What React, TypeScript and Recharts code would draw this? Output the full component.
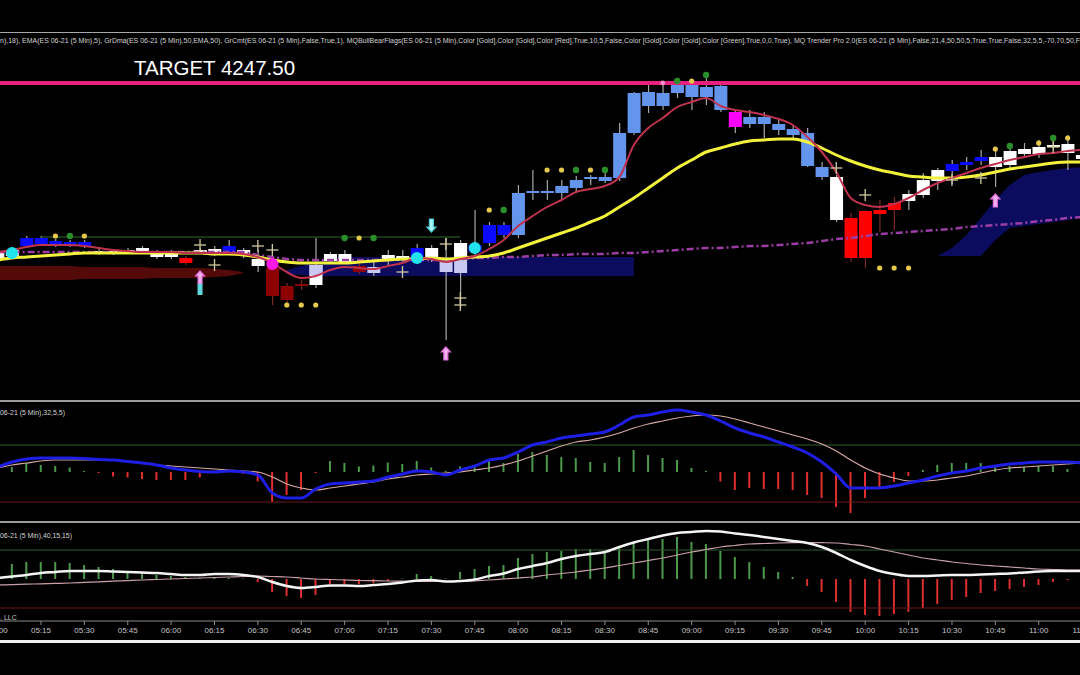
import React from 'react';
import { ComposedChart, Bar, Line, Area, Scatter, XAxis, YAxis, ReferenceLine, Cell } from 'recharts';

// bar geometry (5 min bars)
const BAR_PX = 14.46;
const BAR0_X = -2.4;
const CHART_LEFT = -20;
const CHART_W = 1120;
const X_DOMAIN = [(CHART_LEFT - BAR0_X) / BAR_PX, (CHART_LEFT + CHART_W - BAR0_X) / BAR_PX];

const FONT = 'Arial, "Liberation Sans", sans-serif';

const tickIndex = [0, 3, 6, 9, 12, 15, 18, 21, 24, 27, 30, 33, 36, 39, 42, 45, 48, 51, 54, 57, 60, 63, 66, 69, 72, 75];
const tickLabels = ['05:00', '05:15', '05:30', '05:45', '06:00', '06:15', '06:30', '06:45', '07:00', '07:15', '07:30', '07:45', '08:00',
  '08:15', '08:30', '08:45', '09:00', '09:15', '09:30', '09:45', '10:00', '10:15', '10:30', '10:45', '11:00', '11:15'];

// ES 06-21, 5 min
const opens = [
  4230.0, 4230.2, 4231.2, 4231.4, 4231.3, 4231.3, 4231.2, 4230.5, 4230.5, 4230.6,
  4230.6, 4230.1, 4230.1, 4230.0, 4230.6, 4230.5, 4230.6, 4230.4, 4229.2, 4229.0,
  4227.2, 4227.4, 4227.3, 4229.7, 4229.6, 4229.2, 4228.5, 4229.8, 4230.0, 4229.6,
  4230.0, 4229.6, 4228.5, 4230.6, 4231.5, 4232.3, 4232.3, 4236.5, 4236.5, 4236.5,
  4237.0, 4237.9, 4237.7, 4238.0, 4242.5, 4246.6, 4245.2, 4246.5, 4247.3, 4246.1,
  4247.2, 4244.6, 4244.1, 4243.4, 4243.4, 4242.9, 4242.5, 4239.1, 4238.1, 4234.0,
  4234.7, 4234.4, 4234.8, 4235.7, 4236.3, 4237.7, 4238.7, 4239.3, 4239.7, 4239.1,
  4239.3, 4240.4, 4240.4, 4241.1, 4240.5, 4239.9,
];
const highs = [
  4230.9, 4231.0, 4232.2, 4232.2, 4231.9, 4231.8, 4231.8, 4230.9, 4230.9, 4231.0,
  4231.2, 4230.8, 4230.8, 4230.2, 4231.0, 4231.2, 4231.8, 4231.0, 4230.8, 4229.6,
  4227.5, 4227.8, 4232.0, 4230.6, 4230.8, 4229.5, 4229.8, 4230.8, 4230.8, 4231.4,
  4231.3, 4232.0, 4231.8, 4234.8, 4233.6, 4233.6, 4237.3, 4238.8, 4237.8, 4237.8,
  4238.2, 4238.3, 4238.6, 4243.5, 4246.6, 4247.3, 4247.3, 4247.8, 4247.6, 4248.5,
  4247.5, 4244.8, 4244.8, 4244.6, 4244.0, 4243.3, 4243.0, 4239.6, 4238.3, 4234.5,
  4234.8, 4235.8, 4236.1, 4236.8, 4238.5, 4239.0, 4239.8, 4240.1, 4240.8, 4240.8,
  4241.3, 4241.5, 4241.8, 4241.8, 4242.3, 4240.8,
];
const lows = [
  4229.8, 4230.0, 4231.0, 4231.2, 4231.1, 4231.1, 4231.0, 4230.3, 4230.3, 4230.4,
  4230.4, 4229.9, 4229.9, 4229.3, 4230.4, 4230.2, 4230.4, 4230.0, 4228.6, 4225.3,
  4225.5, 4226.8, 4227.0, 4229.5, 4229.4, 4228.4, 4228.2, 4229.3, 4229.6, 4229.4,
  4229.6, 4221.8, 4225.0, 4230.2, 4231.2, 4232.0, 4232.0, 4235.8, 4235.8, 4235.8,
  4236.6, 4237.3, 4237.5, 4237.7, 4242.3, 4244.5, 4244.8, 4246.0, 4244.8, 4245.3,
  4244.6, 4242.5, 4243.0, 4242.0, 4242.3, 4241.8, 4239.1, 4237.8, 4233.6, 4229.6,
  4229.0, 4232.6, 4232.8, 4234.8, 4236.0, 4236.8, 4237.4, 4238.8, 4239.3, 4237.1,
  4239.0, 4240.0, 4240.0, 4240.8, 4238.8, 4239.6,
];
const closes = [
  4230.7, 4230.8, 4232.0, 4232.0, 4231.7, 4231.6, 4231.6, 4230.7, 4230.7, 4230.8,
  4231.0, 4230.5, 4230.5, 4229.5, 4230.8, 4230.9, 4231.2, 4230.8, 4229.9, 4226.2,
  4225.8, 4227.2, 4229.3, 4230.4, 4230.4, 4228.6, 4229.1, 4230.3, 4230.2, 4231.0,
  4231.0, 4228.6, 4231.5, 4231.3, 4233.3, 4233.3, 4236.5, 4236.7, 4236.7, 4237.2,
  4237.8, 4238.1, 4238.1, 4242.5, 4246.5, 4245.2, 4246.5, 4247.3, 4246.1, 4247.1,
  4244.8, 4243.1, 4243.4, 4244.1, 4242.8, 4242.3, 4239.2, 4238.1, 4233.8, 4230.0,
  4230.0, 4234.8, 4235.5, 4236.4, 4237.8, 4238.8, 4239.4, 4239.6, 4240.1, 4240.1,
  4240.7, 4240.9, 4241.1, 4241.3, 4241.4, 4240.3,
];
// paint bar colours: W white, L lavender, B blue, C cornflower, D dark red, R red, M magenta
const candleTone = 'WWBBBBBWWWWWWRWWBWWDDDWWWDLWWBWLLBBBCCCCCCCCCCCCCCCMCCCCCCWRRRRWWWBBBWWWWWWW';
const twoTone = [
  { i: 22, tone: 'L', to: 4228.3 },
  { i: 32, tone: 'W', to: 4230.0 },
];

const ema5 = [
  4230.6, 4230.8, 4231.1, 4231.3, 4231.3, 4231.3, 4231.2, 4231.0, 4230.8, 4230.7,
  4230.6, 4230.6, 4230.6, 4230.5, 4230.5, 4230.5, 4230.5, 4230.4, 4230.1, 4229.5,
  4228.6, 4228.0, 4228.2, 4228.8, 4229.1, 4229.0, 4228.9, 4229.2, 4229.5, 4230.0,
  4229.9, 4229.6, 4229.9, 4230.2, 4230.9, 4231.8, 4233.2, 4234.2, 4235.1, 4235.8,
  4236.6, 4236.9, 4237.2, 4238.1, 4241.3, 4243.0, 4244.0, 4245.1, 4245.6, 4246.0,
  4245.2, 4244.8, 4244.6, 4244.3, 4243.9, 4243.3, 4242.1, 4240.6, 4238.6, 4236.0,
  4235.3, 4235.1, 4235.4, 4236.0, 4236.8, 4237.5, 4238.0, 4238.5, 4239.0, 4239.4,
  4239.8, 4240.1, 4240.4, 4240.5, 4240.7, 4240.8,
];
const ema50 = [
  4229.8, 4230.0, 4230.1, 4230.2, 4230.3, 4230.4, 4230.5, 4230.5, 4230.5, 4230.5,
  4230.5, 4230.5, 4230.5, 4230.5, 4230.5, 4230.4, 4230.4, 4230.3, 4230.1, 4229.8,
  4229.6, 4229.5, 4229.5, 4229.5, 4229.5, 4229.6, 4229.7, 4229.8, 4229.9, 4229.9,
  4230.0, 4229.9, 4230.0, 4230.1, 4230.2, 4230.5, 4231.0, 4231.5, 4232.0, 4232.5,
  4233.0, 4233.6, 4234.2, 4235.1, 4236.0, 4237.0, 4238.0, 4239.0, 4239.8, 4240.6,
  4241.0, 4241.4, 4241.7, 4241.8, 4241.9, 4241.9, 4241.6, 4241.0, 4240.3, 4239.7,
  4239.2, 4238.8, 4238.5, 4238.2, 4238.1, 4238.0, 4238.0, 4238.1, 4238.3, 4238.6,
  4238.9, 4239.1, 4239.3, 4239.5, 4239.6, 4239.6,
];
const trender = [
  4230.6, 4230.6, 4230.6, 4230.6, 4230.6, 4230.6, 4230.6, 4230.6, 4230.6, 4230.6,
  4230.6, 4230.6, 4230.6, 4230.6, 4230.6, 4230.6, 4230.6, 4230.6, 4230.3, 4230.1,
  4229.9, 4229.8, 4229.8, 4229.8, 4229.8, 4229.8, 4229.8, 4229.8, 4229.8, 4229.8,
  4229.8, 4229.8, 4229.9, 4230.0, 4230.0, 4230.1, 4230.1, 4230.2, 4230.3, 4230.3,
  4230.4, 4230.4, 4230.4, 4230.5, 4230.5, 4230.6, 4230.7, 4230.8, 4230.9, 4231.0,
  4231.0, 4231.1, 4231.2, 4231.2, 4231.3, 4231.4, 4231.5, 4231.7, 4231.9, 4232.0,
  4232.2, 4232.4, 4232.5, 4232.6, 4232.7, 4232.8, 4232.9, 4233.1, 4233.2, 4233.3,
  4233.4, 4233.5, 4233.7, 4233.8, 4234.0, 4234.1,
];

// ribbons
const redBandStart = 0;
const redBandTop = [4229.2, 4229.2, 4229.2, 4229.2, 4229.2, 4229.2, 4229.1, 4229.1, 4229.1, 4229.1, 4229.1, 4229.0, 4229.0, 4229.0, 4229.0, 4228.9, 4228.8, 4228.6];
const redBandBottom = [4227.8, 4227.8, 4227.8, 4227.8, 4227.8, 4227.8, 4227.9, 4227.9, 4227.9, 4227.9, 4227.9, 4228.0, 4228.0, 4228.0, 4228.0, 4228.1, 4228.2, 4228.5];
const navyStart = 20;
const navyTop = [4228.8, 4229.2, 4229.6, 4230.1, 4230.1, 4230.1, 4230.1, 4230.1, 4230.1, 4230.1, 4230.1, 4230.1, 4230.1, 4230.1, 4230.1, 4230.1, 4230.1, 4230.1, 4230.1, 4230.1, 4230.1, 4230.1, 4230.1, 4230.1, 4230.1];
const navyBottom = [4228.4, 4228.3, 4228.2, 4228.2, 4228.2, 4228.2, 4228.2, 4228.2, 4228.2, 4228.2, 4228.2, 4228.2, 4228.2, 4228.2, 4228.2, 4228.2, 4228.2, 4228.2, 4228.2, 4228.2, 4228.2, 4228.2, 4228.2, 4228.2, 4228.2];
const cloudStart = 65;
const cloudTop = [4230.2, 4231.0, 4232.3, 4234.0, 4235.8, 4237.3, 4238.3, 4238.6, 4238.8, 4239.0, 4239.1];
const cloudBottom = [4230.2, 4230.2, 4230.2, 4230.2, 4231.8, 4233.0, 4233.2, 4233.4, 4233.6, 4233.8, 4234.0];
const flagFrom = 3;
const flagTo = 32;
const flagLevel = 4232.1;
const target = 4247.5;

const goldDots = [
  { i: 4, p: 4232.2 }, { i: 6, p: 4232.2 }, { i: 20, p: 4225.3 }, { i: 21, p: 4225.3 }, { i: 22, p: 4225.3 },
  { i: 25, p: 4232.0 }, { i: 34, p: 4234.8 }, { i: 38, p: 4238.8 }, { i: 39, p: 4238.8 }, { i: 41, p: 4238.8 },
  { i: 48, p: 4247.7 }, { i: 61, p: 4229.0 }, { i: 62, p: 4229.0 }, { i: 63, p: 4229.0 },
  { i: 69, p: 4240.9 }, { i: 72, p: 4241.5 }, { i: 74, p: 4242.0 },
];
const greenDots = [
  { i: 5, p: 4232.2 }, { i: 24, p: 4232.0 }, { i: 26, p: 4232.0 }, { i: 35, p: 4234.8 }, { i: 40, p: 4238.8 },
  { i: 42, p: 4238.8 }, { i: 47, p: 4247.7 }, { i: 49, p: 4248.3 }, { i: 70, p: 4241.2 }, { i: 73, p: 4242.0 },
];
const pinkDots = [{ i: 46, p: 4247.5 }];
const cyanDots = [{ i: 1, p: 4230.5 }, { i: 29, p: 4230.0 }, { i: 33, p: 4231.0 }];
const magentaDots = [{ i: 19, p: 4229.4 }];
const crosses = [
  { i: 14, p: 4231.3 }, { i: 15, p: 4229.3 }, { i: 18, p: 4231.2 }, { i: 19, p: 4230.8 }, { i: 28, p: 4228.6 },
  { i: 31, p: 4231.4 }, { i: 32, p: 4226.0 }, { i: 32, p: 4225.3 }, { i: 58, p: 4239.0 }, { i: 60, p: 4236.3 },
  { i: 66, p: 4237.8 }, { i: 68, p: 4238.0 }, { i: 73, p: 4241.1 },
];
const arrows = [
  { i: 14, p: 4228.0, dir: 'up', tail: true },
  { i: 30, p: 4233.3, dir: 'down', tail: false },
  { i: 31, p: 4220.4, dir: 'up', tail: false },
  { i: 69, p: 4235.7, dir: 'up', tail: false },
];

// oscillator pane (32,5,5)
const oscFast = [
  5, 10, 13, 14, 14, 14, 13.5, 12.5, 12, 10.5,
  9, 7, 4, 2, 0.5, 0, 1, 0, -3, -21,
  -26, -26, -17, -12, -11, -10, -9, -5, -2, 1,
  0, -3, 2, 6, 12, 14, 20, 27, 30, 34,
  36, 38, 40, 47, 55, 57, 60, 62, 60, 57,
  51, 44, 39, 35, 30, 25, 19, 10, -2, -16,
  -16, -16, -14, -11, -8, -4, -1, 1, 4, 6,
  8, 9, 10, 10, 10, 9,
];
const oscSlow = [
  4, 7, 9, 11, 12, 12, 12, 12, 12, 11,
  9, 7, 6, 5, 4, 3, 2, 1, 0, -5,
  -12, -16, -18, -16, -14, -12, -10, -7, -5, -3,
  -2, -1, 0, 2, 4, 7, 11, 16, 21, 26,
  30, 32, 35, 39, 44, 48, 51, 54, 56, 57,
  56, 53, 49, 45, 41, 37, 33, 28, 21, 12,
  4, -2, -6, -9, -9, -8, -6, -4, -1, 2,
  4, 5, 6, 7, 8, 9,
];
const oscHist = [
  3, 5, 9, 7, 6, 4.5, 1, -1, -4.5, -5.5,
  -7, -8, -8, -8, -5.5, -1, 2, -2, -9.5, -30,
  -23, -18, -1, 11, 9, 5.5, 6.5, 9.5, 8, 11,
  4.5, 1, 5.5, 7, 11, 9, 18, 20, 17, 15,
  14, 10, 9, 15, 22, 17, 14, 12, 4, 1,
  -9.5, -18, -16, -17, -17, -18, -23, -26, -35, -41,
  -26, -15, -10, -4, 2, 7, 9, 9, 9, 7,
  6, 5, 6, 6, 3, 2,
];

// momentum pane (40,15,15)
const momLine = [
  1, 2.5, 4, 6, 7, 8, 8, 8, 7.5, 7,
  6.5, 6, 5, 4, 4, 5, 5, 4, 2, -3,
  -7, -9, -8, -6.5, -6.5, -7, -6, -5, -3.5, -1.5,
  -1, -2.5, -2, -0.5, 3, 5.5, 10, 13, 16, 20,
  23, 25, 27, 32, 36.5, 40, 43.5, 46, 47, 48,
  47.5, 45.5, 44, 42, 40, 38, 36, 32, 26, 19,
  13, 8, 5, 3, 3, 3.5, 4, 4, 4.5, 5,
  5.5, 6.5, 7.5, 8, 8, 8,
];
const momSignal = [
  -6, -5.6, -5.2, -4.8, -4.4, -4, -3.4, -2.8, -2.2, -1.6,
  -1, -0.5, 0, 0.5, 1, 1.5, 2, 2.5, 3, 2.5,
  2, 1, 0, -0.5, -1, -1.5, -1.7, -2, -2.2, -2.4,
  -2.5, -2.5, -2.5, -1.8, -1, 0, 1, 2, 4, 5.5,
  7, 9, 11, 13.5, 16, 18.5, 21, 24, 27, 29.5,
  32, 33.5, 35, 35.5, 36, 36.3, 36.5, 36.3, 36, 34.5,
  33, 30, 27, 24, 21, 19, 17, 15.5, 14, 13,
  12, 11, 10, 9.5, 9, 9,
];
const momHist = [
  14, 15, 17, 17, 17, 16, 14, 12, 10, 8,
  6, 4, 3, 2, 1, 1, 1, 0.5, -3, -13,
  -17, -19, -16, -5, -5, -5, -4, -2, 0.5, 5,
  3, 0.5, 7, 10, 13, 14, 21, 25, 27, 28,
  30, 30, 27, 32, 36, 39, 40, 42, 37, 35,
  28, 22, 17, 12, 7, 2, -7, -13, -23, -33,
  -36, -37, -35, -33, -29, -25, -21, -18, -14, -12,
  -10, -8, -6, -3, -1, -0.5,
];

const TONES: Record<string, string> = {
  W: '#ffffff', L: '#c8c8f2', B: '#0a0aff', C: '#6495ed', D: '#8e0000', R: '#ff0000', M: '#ff00ff',
};

const band = (i: number, start: number, top: number[], bottom: number[]) => {
  const k = i - start;
  return k >= 0 && k < top.length ? [bottom[k], top[k]] : null;
};

const table = opens.map((open, i) => {
  const split = twoTone.find((t) => t.i === i);
  return {
    i,
    open,
    high: highs[i],
    low: lows[i],
    close: closes[i],
    range: [lows[i], highs[i]],
    tone: candleTone[i],
    splitTone: split ? split.tone : null,
    splitTo: split ? split.to : null,
    ema5: ema5[i],
    ema50: ema50[i],
    trender: trender[i],
    redBand: band(i, redBandStart, redBandTop, redBandBottom),
    navy: band(i, navyStart, navyTop, navyBottom) || band(i, cloudStart, cloudTop, cloudBottom),
    flag: i >= flagFrom && i <= flagTo ? flagLevel : null,
    oscFast: oscFast[i],
    oscSlow: oscSlow[i],
    oscHist: oscHist[i],
    momLine: momLine[i],
    momSignal: momSignal[i],
    momHist: momHist[i],
  };
});

const Candle = (props: any) => {
  const { x, y, width, height, payload } = props;
  if (x == null || y == null || !payload) return null;
  const top = Math.min(y, y + height);
  const h = Math.abs(height);
  const span = payload.high - payload.low;
  const toY = (v: number) => (span > 0 ? top + ((payload.high - v) / span) * h : top);
  const cx = x + width / 2;
  const yo = toY(payload.open);
  const yc = toY(payload.close);
  const bt = Math.min(yo, yc);
  const bh = Math.max(1.5, Math.abs(yo - yc));
  const red = payload.tone === 'D' || payload.tone === 'R';
  return (
    <g>
      <line x1={cx} x2={cx} y1={top} y2={top + h} stroke={red ? '#7a2a22' : '#a8a8a8'} strokeWidth={1.2} />
      <rect x={x} y={bt} width={width} height={bh} fill={TONES[payload.tone]} />
      {payload.splitTone && (
        <rect x={x} y={bt} width={width} height={Math.max(0, toY(payload.splitTo) - bt)} fill={TONES[payload.splitTone]} />
      )}
    </g>
  );
};

const dot = (fill: string, r: number) => (p: any) => <circle cx={p.cx} cy={p.cy} r={r} fill={fill} />;

const Cross = (p: any) => (
  <g stroke="#d2caa0" strokeWidth={1.3}>
    <line x1={p.cx - 6} x2={p.cx + 6} y1={p.cy} y2={p.cy} />
    <line x1={p.cx} x2={p.cx} y1={p.cy - 6} y2={p.cy + 6} />
  </g>
);

const Arrow = (p: any) => {
  const { cx, cy, payload } = p;
  const s = payload.dir === 'up' ? 1 : -1;
  const stroke = payload.dir === 'up' ? '#e070dc' : '#45cfd6';
  const fill = payload.dir === 'up' ? '#f2b0ec' : '#aef2f4';
  const d = `M${cx},${cy - 7 * s} L${cx + 4.5},${cy - 2 * s} L${cx + 2},${cy - 2 * s} L${cx + 2},${cy + 6 * s} ` +
    `L${cx - 2},${cy + 6 * s} L${cx - 2},${cy - 2 * s} L${cx - 4.5},${cy - 2 * s} Z`;
  return (
    <g>
      <path d={d} fill={fill} stroke={stroke} strokeWidth={1.2} />
      {payload.tail && <rect x={cx - 2.5} y={cy + 6} width={5} height={11} fill="#5fd8dc" />}
    </g>
  );
};

const xAxisHidden = (
  <XAxis dataKey="i" type="number" domain={X_DOMAIN} allowDataOverflow hide />
);

const PriceChart = () => (
  <ComposedChart width={CHART_W} height={368} data={table} margin={{ top: 0, right: 0, bottom: 0, left: 0 }}>
    {xAxisHidden}
    <YAxis type="number" domain={[4215.7, 4252.5]} allowDataOverflow hide />
    <Area dataKey="redBand" type="monotone" stroke="none" fill="#550a0a" fillOpacity={1} isAnimationActive={false} connectNulls={false} />
    <Area dataKey="navy" type="linear" stroke="none" fill="#0c0c5e" fillOpacity={1} isAnimationActive={false} connectNulls={false} />
    <Line dataKey="flag" stroke="#2f6a2f" strokeWidth={1.2} dot={false} isAnimationActive={false} connectNulls={false} />
    <Bar dataKey="range" barSize={13} isAnimationActive={false} shape={(p: any) => <Candle {...p} />} />
    <Line dataKey="trender" type="linear" stroke="#9c3ea6" strokeWidth={2.5} strokeDasharray="7 3 2 3" dot={false} isAnimationActive={false} />
    <Line dataKey="ema50" type="monotone" stroke="#f2f23c" strokeWidth={3} dot={false} isAnimationActive={false} />
    <Line dataKey="ema5" type="monotone" stroke="#bf3350" strokeWidth={2} dot={false} isAnimationActive={false} />
    <ReferenceLine y={target} stroke="#e6207c" strokeWidth={4} />
    <Scatter data={goldDots} dataKey="p" shape={dot('#e6c84a', 2.6)} isAnimationActive={false} />
    <Scatter data={greenDots} dataKey="p" shape={dot('#2a8e2a', 3.2)} isAnimationActive={false} />
    <Scatter data={pinkDots} dataKey="p" shape={dot('#ff8cc8', 2.4)} isAnimationActive={false} />
    <Scatter data={crosses} dataKey="p" shape={Cross} isAnimationActive={false} />
    <Scatter data={cyanDots} dataKey="p" shape={dot('#22e2ee', 6)} isAnimationActive={false} />
    <Scatter data={magentaDots} dataKey="p" shape={dot('#ff18e6', 6)} isAnimationActive={false} />
    <Scatter data={arrows} dataKey="p" shape={Arrow} isAnimationActive={false} />
  </ComposedChart>
);

const OscChart = () => (
  <ComposedChart width={CHART_W} height={120} data={table} margin={{ top: 0, right: 0, bottom: 0, left: 0 }}>
    {xAxisHidden}
    <YAxis type="number" domain={[-50, 70]} allowDataOverflow hide />
    <ReferenceLine y={27} stroke="#2d5a2d" strokeWidth={1} />
    <ReferenceLine y={-30} stroke="#6e1818" strokeWidth={1} />
    <Bar dataKey="oscHist" barSize={2} isAnimationActive={false}>
      {table.map((d) => <Cell key={d.i} fill={d.oscHist >= 0 ? '#4c984c' : '#e0302e'} />)}
    </Bar>
    <Line dataKey="oscSlow" type="monotone" stroke="#d8a8a4" strokeWidth={1.2} dot={false} isAnimationActive={false} />
    <Line dataKey="oscFast" type="monotone" stroke="#1e1ee4" strokeWidth={3} dot={false} isAnimationActive={false} />
  </ComposedChart>
);

const MomChart = () => (
  <ComposedChart width={CHART_W} height={118} data={table} margin={{ top: 0, right: 0, bottom: 0, left: 0 }}>
    <XAxis
      dataKey="i"
      type="number"
      domain={X_DOMAIN}
      allowDataOverflow
      ticks={tickIndex}
      interval={0}
      height={20}
      tickFormatter={(v: number) => tickLabels[tickIndex.indexOf(v)] || ''}
      tick={{ fontSize: 8, fill: '#c4c4c4', fontFamily: FONT }}
      tickSize={4}
      tickLine={{ stroke: '#8a8a8a' }}
      axisLine={{ stroke: '#8a8a8a' }}
    />
    <YAxis type="number" domain={[-42, 56]} allowDataOverflow hide />
    <ReferenceLine y={29} stroke="#2d5a2d" strokeWidth={1} />
    <ReferenceLine y={-29} stroke="#6e1818" strokeWidth={1} />
    <Bar dataKey="momHist" barSize={2} isAnimationActive={false}>
      {table.map((d) => <Cell key={d.i} fill={d.momHist >= 0 ? '#4c984c' : '#dc302e'} />)}
    </Bar>
    <Line dataKey="momSignal" type="monotone" stroke="#c8a0a8" strokeWidth={1.2} dot={false} isAnimationActive={false} />
    <Line dataKey="momLine" type="monotone" stroke="#f4f4f4" strokeWidth={2.5} dot={false} isAnimationActive={false} />
  </ComposedChart>
);

const HEADER =
  'n),18), EMA(ES 06-21 (5 Min),5), GrDma(ES 06-21 (5 Min),50,EMA,50), GrCmt(ES 06-21 (5 Min),False,True,1), ' +
  'MQBullBearFlags(ES 06-21 (5 Min),Color [Gold],Color [Gold],Color [Red],True,10,5,False,Color [Gold],Color [Gold],' +
  'Color [Green],True,0,0,True), MQ Trender Pro 2.0(ES 06-21 (5 Min),False,21,4,50,50,5,True,True,False,32,5,5,-70,70,50,F';

const rule = (top: number, h: number, color: string) => (
  <div style={{ position: 'absolute', left: 0, top, width: 1080, height: h, background: color }} />
);

export default function App() {
  return (
    <div style={{ position: 'absolute', left: 0, top: 0, width: 1080, height: 675, overflow: 'hidden', background: '#000' }}>
      <div style={{ position: 'absolute', left: CHART_LEFT, top: 33 }}>
        <PriceChart />
      </div>
      <div style={{ position: 'absolute', left: CHART_LEFT, top: 402 }}>
        <OscChart />
      </div>
      <div style={{ position: 'absolute', left: CHART_LEFT, top: 523 }}>
        <MomChart />
      </div>
      {rule(32, 1, '#a8a8a8')}
      {rule(400, 2, '#9c9c9c')}
      {rule(521, 2, '#9c9c9c')}
      {rule(640, 3, '#f0f0f0')}
      <svg width={1080} height={675} style={{ position: 'absolute', left: 0, top: 0, pointerEvents: 'none' }}>
        <text x={0} y={43} fontSize={7.6} fill="#d4d4d4" fontFamily={FONT} textLength={1080} lengthAdjust="spacingAndGlyphs">
          {HEADER}
        </text>
        <text x={134} y={75} fontSize={20.5} fill="#ffffff" fontFamily={FONT}>TARGET 4247.50</text>
        <text x={0} y={415} fontSize={7.5} fill="#d4d4d4" fontFamily={FONT} textLength={65} lengthAdjust="spacingAndGlyphs">
          06-21 (5 Min),32,5,5)
        </text>
        <text x={0} y={538} fontSize={7.5} fill="#d4d4d4" fontFamily={FONT} textLength={72} lengthAdjust="spacingAndGlyphs">
          06-21 (5 Min),40,15,15)
        </text>
        <text x={0} y={620} fontSize={7} fill="#c4c4c4" fontFamily={FONT}>, LLC</text>
      </svg>
    </div>
  );
}
